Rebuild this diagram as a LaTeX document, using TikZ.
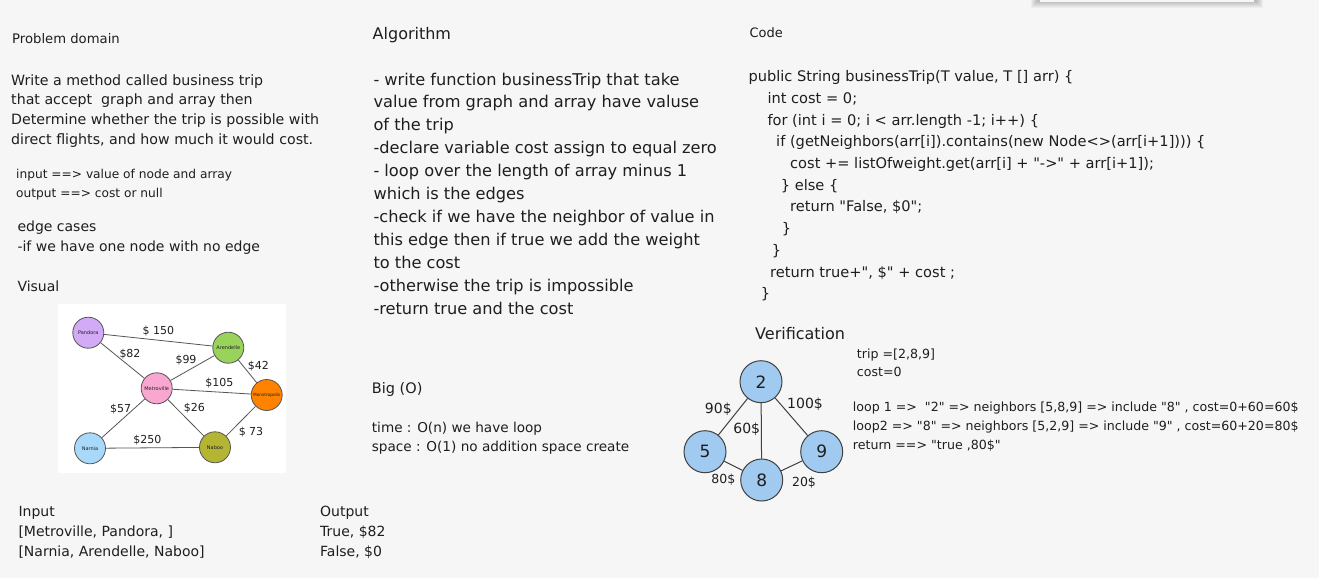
\documentclass[tikz,border=0pt]{standalone}
\usepackage{fontspec}
\setmainfont{DejaVu Sans}[Ligatures=TeXOff]
\definecolor{bg}{RGB}{246,246,246}
\definecolor{ink}{RGB}{30,30,30}
\definecolor{edgegray}{RGB}{85,85,85}
\definecolor{cPandora}{RGB}{211,170,245}
\definecolor{cArendelle}{RGB}{154,211,92}
\definecolor{cMetro}{RGB}{249,166,208}
\definecolor{cMonstro}{RGB}{255,130,0}
\definecolor{cNarnia}{RGB}{168,216,250}
\definecolor{cNaboo}{RGB}{181,181,52}
\definecolor{vblue}{RGB}{160,202,240}
\tikzset{
  txt/.style={anchor=base west, inner sep=0pt, text=ink},
  pdhead/.style={txt, font=\fontsize{13.2}{16}\selectfont},
  pdbody/.style={txt, font=\fontsize{14.2}{17}\selectfont},
  iobody/.style={txt, font=\fontsize{12.2}{15}\selectfont},
  edbody/.style={txt, font=\fontsize{14}{17}\selectfont},
  alhead/.style={txt, font=\fontsize{16}{19}\selectfont},
  albody/.style={txt, font=\fontsize{16.2}{19}\selectfont},
  bohead/.style={txt, font=\fontsize{14.5}{17}\selectfont},
  bobody/.style={txt, font=\fontsize{13.6}{16}\selectfont},
  cdhead/.style={txt, font=\fontsize{13}{15}\selectfont},
  cdbody/.style={txt, font=\fontsize{14.6}{17}\selectfont},
  vfhead/.style={txt, font=\fontsize{16}{19}\selectfont},
  vfbody/.style={txt, font=\fontsize{12.6}{15}\selectfont},
  btbody/.style={txt, font=\fontsize{14}{17}\selectfont},
  city/.style={circle, draw=edgegray, line width=0.8pt, minimum size=31pt, inner sep=0pt, text=ink, font=\fontsize{5}{6}\selectfont},
  citylink/.style={draw=edgegray, line width=0.8pt},
  price/.style={inner sep=0pt, text=ink, font=\fontsize{11}{13}\selectfont},
  vnode/.style={circle, draw=ink!85, line width=1pt, fill=vblue, minimum size=42pt, inner sep=0pt, text=ink, font=\fontsize{17}{20}\selectfont},
  vlink/.style={draw=ink!85, line width=1pt},
  vprice/.style={inner sep=0pt, text=ink, font=\fontsize{14}{16}\selectfont},
  vpricesm/.style={inner sep=0pt, text=ink, font=\fontsize{12.5}{15}\selectfont},
}
\begin{document}
\begin{tikzpicture}[x=1pt, y=-1pt]
\useasboundingbox (0,0) rectangle (1319,578);
\fill[bg] (0,0) rectangle (1319,578);

% top shadowed box (partly visible)
\foreach \k in {1,...,7} \fill[black, opacity=0.035] (1038-\k,-10) rectangle (1256+\k,1+\k);
\fill[bg] (1040,-10) rectangle (1254,2);

% ---------- Problem domain ----------
\node[pdhead] (pdh) at (12,43.3) {Problem domain};
\foreach \t [count=\i] in {
  {Write a method called business trip},
  {that accept\ \ graph and array then},
  {Determine whether the trip is possible with},
  {direct flights, and how much it would cost.}}
  \node[pdbody] (pd\i) at (11,{85+19.8*(\i-1)}) {\t};
\node[iobody] (io1) at (16,178.3) {input ==> value of node and array};
\node[iobody] (io2) at (16,197.3) {output ==> cost or null};
\node[edbody] (ec1) at (17.3,231.7) {edge cases};
\node[edbody] (ec2) at (17.3,251.7) {-if we have one node with no edge};
\node[edbody] (vis) at (17.3,291.7) {Visual};

% ---------- Visual graph ----------
\fill[white] (58,304) rectangle (286,473);
\node[city, fill=cPandora] (pan) at (88.3,332.7) {Pandora};
\node[city, fill=cArendelle] (are) at (228.3,347.7) {Arendelle};
\node[city, fill=cMetro] (met) at (156.7,388.3) {Metroville};
\node[city, fill=cMonstro, font=\fontsize{4.3}{5}\selectfont] (mon) at (266.7,395) {Monstropolis};
\node[city, fill=cNarnia] (nar) at (90,448.3) {Narnia};
\node[city, fill=cNaboo] (nab) at (215,447.3) {Naboo};
\draw[citylink] (pan) -- (are);
\draw[citylink] (pan) -- (met);
\draw[citylink] (met) -- (are);
\draw[citylink] (are) -- (mon);
\draw[citylink] (met) -- (mon);
\draw[citylink] (met) -- (nar);
\draw[citylink] (met) -- (nab);
\draw[citylink] (nar) -- (nab);
\draw[citylink] (nab) -- (mon);
\node[price] (p150) at (158.3,330.7) {\$ 150};
\node[price] (p82) at (130,354) {\$82};
\node[price] (p99) at (186,360) {\$99};
\node[price] (p42) at (258.3,366) {\$42};
\node[price] (p105) at (219.3,382.7) {\$105};
\node[price] (p57) at (120.7,409) {\$57};
\node[price] (p26) at (194.3,408.3) {\$26};
\node[price] (p250) at (147.3,440) {\$250};
\node[price] (p73) at (251,432.5) {\$ 73};

% ---------- Bottom input / output ----------
\node[btbody] (in0) at (18.3,516) {Input};
\node[btbody] (in1) at (18.3,536.7) {[Metroville, Pandora, ]};
\node[btbody] (in2) at (18.3,556.7) {[Narnia, Arendelle, Naboo]};
\node[btbody] (out0) at (320,516) {Output};
\node[btbody] (out1) at (320,536.7) {True, \$82};
\node[btbody] (out2) at (320,556.7) {False, \$0};

% ---------- Algorithm ----------
\node[alhead] (alh) at (372.5,39.3) {Algorithm};
\foreach \t [count=\i] in {
  {- write function businessTrip that take},
  {value from graph and array have valuse},
  {of the trip},
  {-declare variable cost assign to equal zero},
  {- loop over the length of array minus 1},
  {which is the edges},
  {-check if we have the neighbor of value in},
  {this edge then if true we add the weight},
  {to the cost},
  {-otherwise the trip is impossible},
  {-return true and the cost}}
  \node[albody] (al\i) at (373.3,{85+22.9*(\i-1)}) {\t};

% ---------- Big O ----------
\node[bohead] (boh) at (371.7,393.3) {Big (O)};
\node[bobody] (bo1) at (371.7,432.7) {time : O(n) we have loop};
\node[bobody] (bo2) at (371.7,451.7) {space : O(1) no addition space create};

% ---------- Code ----------
\node[cdhead] (cdh) at (749.3,37.3) {Code};
\foreach \x/\t [count=\i] in {
  748.3/{public String businessTrip(T value, T [] arr) \{},
  767.3/{int cost = 0;},
  767.3/{for (int i = 0; i < arr.length -1; i++) \{},
  776/{if (getNeighbors(arr[i]).contains(new Node<>(arr[i+1]))) \{},
  790/{cost += listOfweight.get(arr[i] + "->" + arr[i+1]);},
  780.7/{\} else \{},
  790/{return "False, \$0";},
  781.7/{\}},
  771.7/{\}},
  770/{return true+", \$" + cost ;},
  760.7/{\}}}
  \node[cdbody] (cd\i) at (\x,{81.7+21.7*(\i-1)}) {\t};

% ---------- Verification ----------
\node[vfhead] (vfh) at (755,339.3) {Verification};
\node[vnode] (v2) at (761,381.7) {2};
\node[vnode] (v5) at (705,451.7) {5};
\node[vnode] (v9) at (821.7,451.7) {9};
\node[vnode] (v8) at (761.7,480) {8};
\draw[vlink] (v2) -- (v5);
\draw[vlink] (v2) -- (v8);
\draw[vlink] (v2) -- (v9);
\draw[vlink] (v5) -- (v8);
\draw[vlink] (v8) -- (v9);
\node[vprice] (l90) at (718.3,409.3) {90\$};
\node[vprice] (l60) at (746.7,429.3) {60\$};
\node[vprice] (l100) at (805,404) {100\$};
\node[vpricesm] (l80) at (723.3,480) {80\$};
\node[vpricesm] (l20) at (804,482.7) {20\$};

\node[vfbody] (tr1) at (856.7,358.3) {trip =[2,8,9]};
\node[vfbody] (tr2) at (856.7,376.7) {cost=0};
\node[vfbody] (lp1) at (852.7,411.7) {loop 1 =>\ \ "2" => neighbors [5,8,9] => include "8" , cost=0+60=60\$};
\node[vfbody] (lp2) at (852.7,430.5) {loop2 => "8" => neighbors [5,2,9] => include "9" , cost=60+20=80\$};
\node[vfbody] (ret) at (852.7,449.5) {return ==> "true ,80\$"};
\end{tikzpicture}
\end{document}
